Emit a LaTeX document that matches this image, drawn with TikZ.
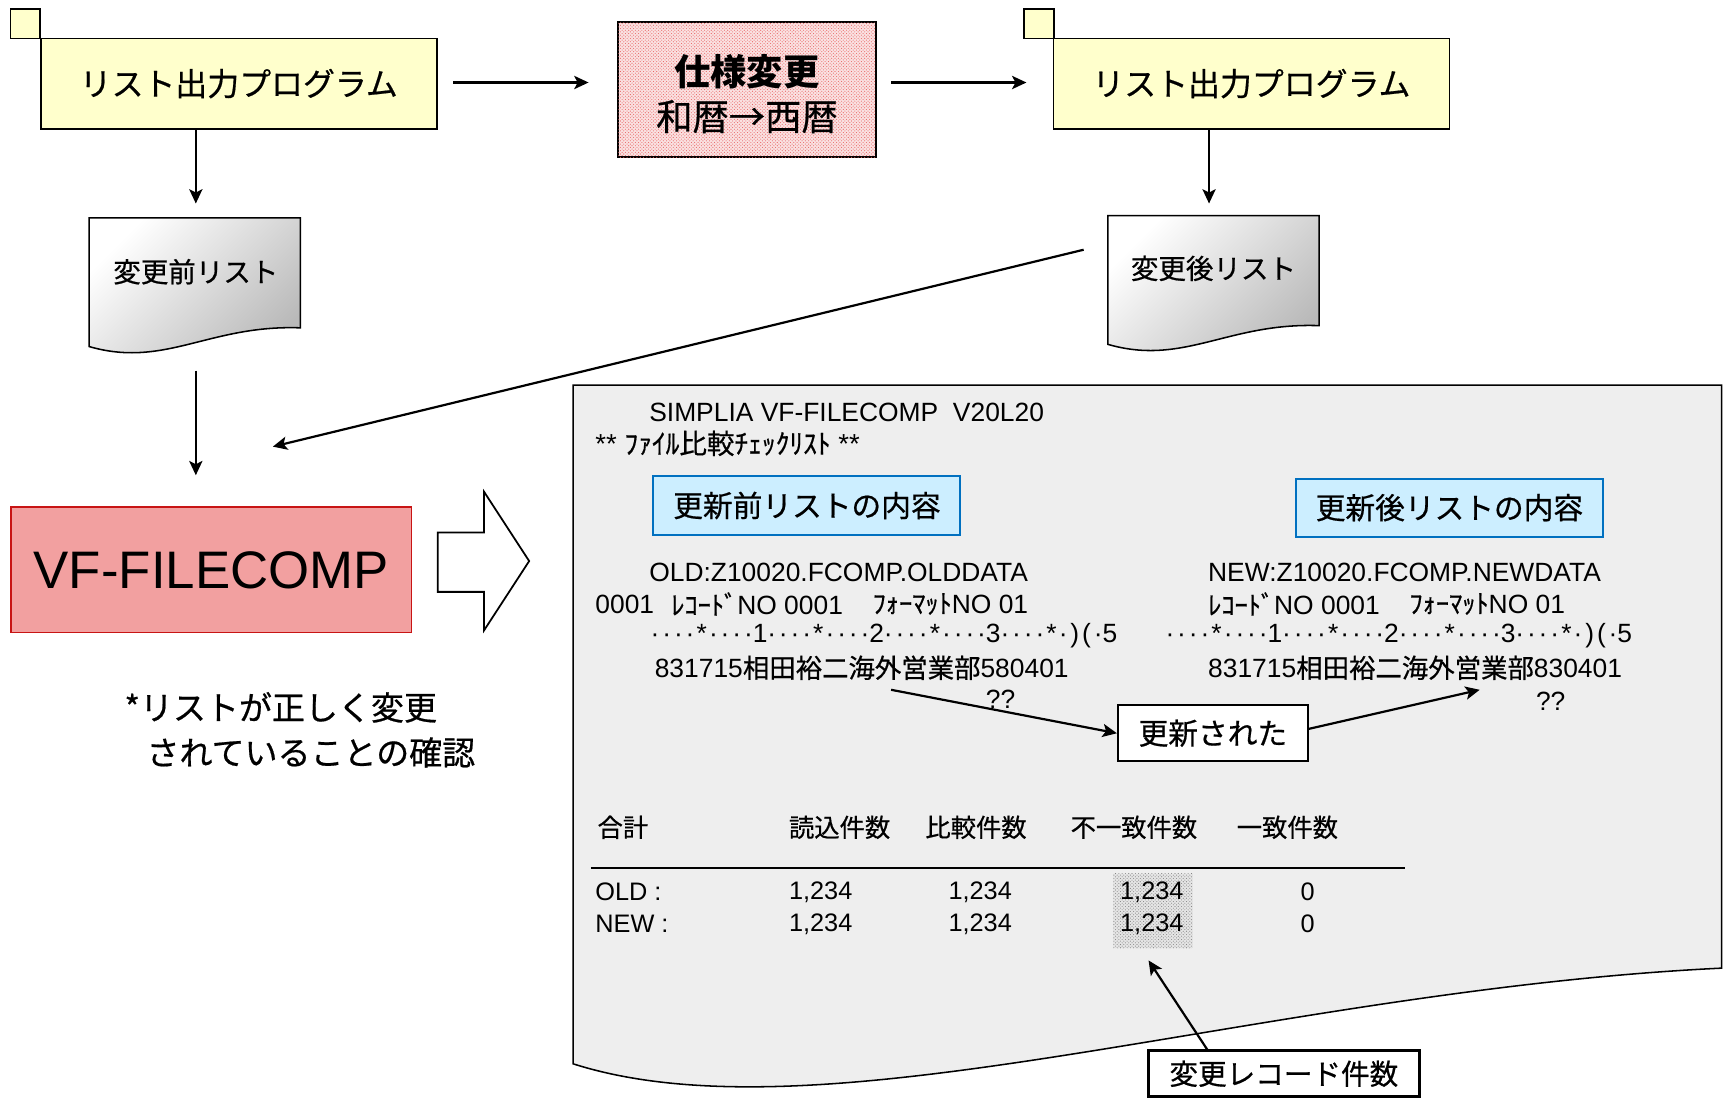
\documentclass[tikz,border=0pt]{standalone}
\usepackage{fontspec}
\setmainfont{Liberation Sans}
\newfontfamily\jp{Noto Sans CJK JP}[FakeBold=0.6]
\newfontfamily\jpbase{Noto Sans CJK JP}
\usetikzlibrary{arrows.meta,patterns}
\definecolor{yel}{RGB}{255,255,204}
\definecolor{vfred}{RGB}{242,160,160}
\definecolor{vfborder}{RGB}{200,20,20}
\definecolor{bluefill}{RGB}{204,238,255}
\definecolor{blueline}{RGB}{0,112,192}
\definecolor{sheetgray}{RGB}{238,238,238}
\definecolor{pinkdot}{RGB}{232,100,100}
\definecolor{pinkbase}{RGB}{250,225,225}
\newcommand\fs[1]{\fontsize{#1}{#1}\selectfont}
\newcommand\cellw{10.6pt}
\def\mono#1{\ifx#1\relax\else\makebox[\cellw]{#1}\expandafter\mono\fi}
\begin{document}
\begin{tikzpicture}[x=1pt,y=-1pt,
  arr/.style={line width=2pt,-{Stealth[length=13pt,width=12pt,inset=3pt]}},
  sq/.style={draw,line width=1.5pt,fill=yel,minimum size=27pt,inner sep=0},
  prog/.style={draw,line width=1.5pt,fill=yel,minimum width=360pt,minimum height=82pt,inner sep=0,font=\jp\fs{29}},
  docshape/.style={draw,line width=1.4pt,top color=white,bottom color=gray!55,shading angle=45},
  doctxt/.style={inner sep=0,font=\jp\fs{25}},
  txt/.style={anchor=west,inner sep=0,font=\fs{24}},
  tbl/.style={anchor=west,inner sep=0,font=\fs{23}},
  bluebox/.style={draw=blueline,line width=1.8pt,fill=bluefill,minimum width=279pt,minimum height=53pt,inner sep=0,font=\jp\fs{27}},
  whitebox/.style={draw,line width=1.6pt,fill=white,inner sep=0,font=\jp\fs{27}}
]
\useasboundingbox (0,0) rectangle (1568,998);

% ---------- top row ----------
\node[sq] (sqL) at (23,21.5) {};
\node[prog] (progL) at (217,76) {リスト出力プログラム};
\node[sq] (sqR) at (944.5,21.5) {};
\node[prog] (progR) at (1137.5,76) {リスト出力プログラム};
\node[draw,line width=1.5pt,fill=pinkbase,minimum width=234pt,minimum height=123pt,inner sep=0,
      postaction={pattern=crosshatch dots,pattern color=pinkdot}] (spec) at (679,81.5) {};
\node[inner sep=0,font=\jpbase\bfseries\fs{33}] (specA) at (679,65) {仕様変更};
\node[inner sep=0,font=\jp\fs{33}] (specB) at (679,106) {和暦→西暦};

\coordinate (t1s) at (412,75); \coordinate (t1e) at (535,75);
\coordinate (t2s) at (810,75); \coordinate (t2e) at (933,75);
\draw[arr] (t1s) -- (t1e);
\draw[arr] (t2s) -- (t2e);

% ---------- documents ----------
\path[docshape] (81,198) -- (273,198) -- (273,298) .. controls (190,295) and (150,335) .. (81,315) -- cycle;
\node[doctxt] (docL) at (178,247) {変更前リスト};
\path[docshape] (1007,196) -- (1199,196) -- (1199,296) .. controls (1116,293) and (1076,333) .. (1007,313) -- cycle;
\node[doctxt] (docR) at (1103,244) {変更後リスト};

\coordinate (d1s) at (178,117); \coordinate (d1e) at (178,185);
\coordinate (d2s) at (1099,117); \coordinate (d2e) at (1099,185);
\draw[arr] (d1s) -- (d1e);
\draw[arr] (d2s) -- (d2e);
\coordinate (d3s) at (178,337); \coordinate (d3e) at (178,432);
\draw[arr] (d3s) -- (d3e);
\coordinate (d4s) at (985,227); \coordinate (d4e) at (248,406);
\draw[arr] (d4s) -- (d4e);

% ---------- VF-FILECOMP ----------
\node[draw=vfborder,fill=vfred,line width=1.4pt,minimum width=364pt,minimum height=114pt,inner sep=0,font=\fs{48}] (vf) at (192,518) {VF-FILECOMP};
\draw[line width=1.6pt,fill=white] (398,484) -- (440,484) -- (440,447) -- (481,510) -- (440,573) -- (440,538) -- (398,538) -- cycle;
\node[anchor=west,inner sep=0,font=\jp\fs{30}] (capA) at (113,643) {*リストが正しく変更};
\node[anchor=west,inner sep=0,font=\jp\fs{30}] (capB) at (133,684) {されていることの確認};

% ---------- sheet ----------
\draw[fill=sheetgray,line width=1.4pt] (521,350) -- (1565,350) -- (1565,880) .. controls (1150,900) and (750,1040) .. (521,967) -- cycle;

\node[txt] (t1) at (590,375) {SIMPLIA VF-FILECOMP\ \ V20L20};
\node[txt,font=\fs{25}] (t2) at (541,403) {** {\jp ﾌｧｲﾙ比較ﾁｪｯｸﾘｽﾄ} **};
\node[bluebox] (bL) at (733.5,459.5) {更新前リストの内容};
\node[bluebox] (bR) at (1317.5,461.5) {更新後リストの内容};

\node[txt] (o1) at (590,520) {OLD:Z10020.FCOMP.OLDDATA};
\node[txt] (o2a) at (541,549) {0001};
\node[txt] (o2b) at (610,549) {{\jp ﾚｺｰﾄﾞ}NO 0001};
\node[txt] (o2c) at (793,549) {{\jp ﾌｫｰﾏｯﾄ}NO 01};
\node[txt] (o3) at (590,578) {\mono····*····1····*····2····*····3····*·)(·5\relax};
\node[txt] (o4) at (595,607) {831715{\jp 相田裕二海外営業部}580401};
\node[txt] (o5) at (896,636) {??};

\node[txt] (n1) at (1098,520) {NEW:Z10020.FCOMP.NEWDATA};
\node[txt] (n2b) at (1098,549) {{\jp ﾚｺｰﾄﾞ}NO 0001};
\node[txt] (n2c) at (1281,549) {{\jp ﾌｫｰﾏｯﾄ}NO 01};
\node[txt] (n3) at (1058,578) {\mono····*····1····*····2····*····3····*·)(·5\relax};
\node[txt] (n4) at (1098,607) {831715{\jp 相田裕二海外営業部}830401};
\node[txt] (n5) at (1396,637) {??};

\node[whitebox,minimum width=173pt,minimum height=51pt] (upd) at (1102.5,666.5) {更新された};
\coordinate (u1) at (810,627);
\coordinate (u2) at (1345,627);
\draw[arr] (u1) -- (upd.west);
\draw[arr] ([yshift=4pt]upd.east) -- (u2);

% table
\node[tbl,font=\jp\fs{23}] (h0) at (543,752) {合計};
\node[tbl,font=\jp\fs{23}] (h1) at (717,752) {読込件数};
\node[tbl,font=\jp\fs{23}] (h2) at (841,752) {比較件数};
\node[tbl,font=\jp\fs{23}] (h3) at (973,752) {不一致件数};
\node[tbl,font=\jp\fs{23}] (h4) at (1124,752) {一致件数};
\coordinate (ls) at (537,789); \coordinate (le) at (1277,789);
\draw[line width=2pt] (ls) -- (le);
\path[fill=gray!20,postaction={pattern=crosshatch dots,pattern color=gray!95}] (1012,794) rectangle (1084,862);

\node[tbl] (r1a) at (541,811) {OLD :};
\node[tbl] (r1b) at (717,811) {1,234};
\node[tbl] (r1c) at (862,811) {1,234};
\node[tbl] (r1d) at (1018,811) {1,234};
\node[tbl] (r1e) at (1182,811) {0};
\node[tbl] (r2a) at (541,840) {NEW :};
\node[tbl] (r2b) at (717,840) {1,234};
\node[tbl] (r2c) at (862,840) {1,234};
\node[tbl] (r2d) at (1018,840) {1,234};
\node[tbl] (r2e) at (1182,840) {0};

\node[whitebox,line width=2.8pt,minimum width=246pt,minimum height=42pt,font=\jp\fs{26}] (cnt) at (1167,976) {変更レコード件数};
\coordinate (c1) at (1098,955);
\coordinate (c2) at (1044,873);
\draw[arr] (c1) -- (c2);
\end{tikzpicture}
\end{document}
